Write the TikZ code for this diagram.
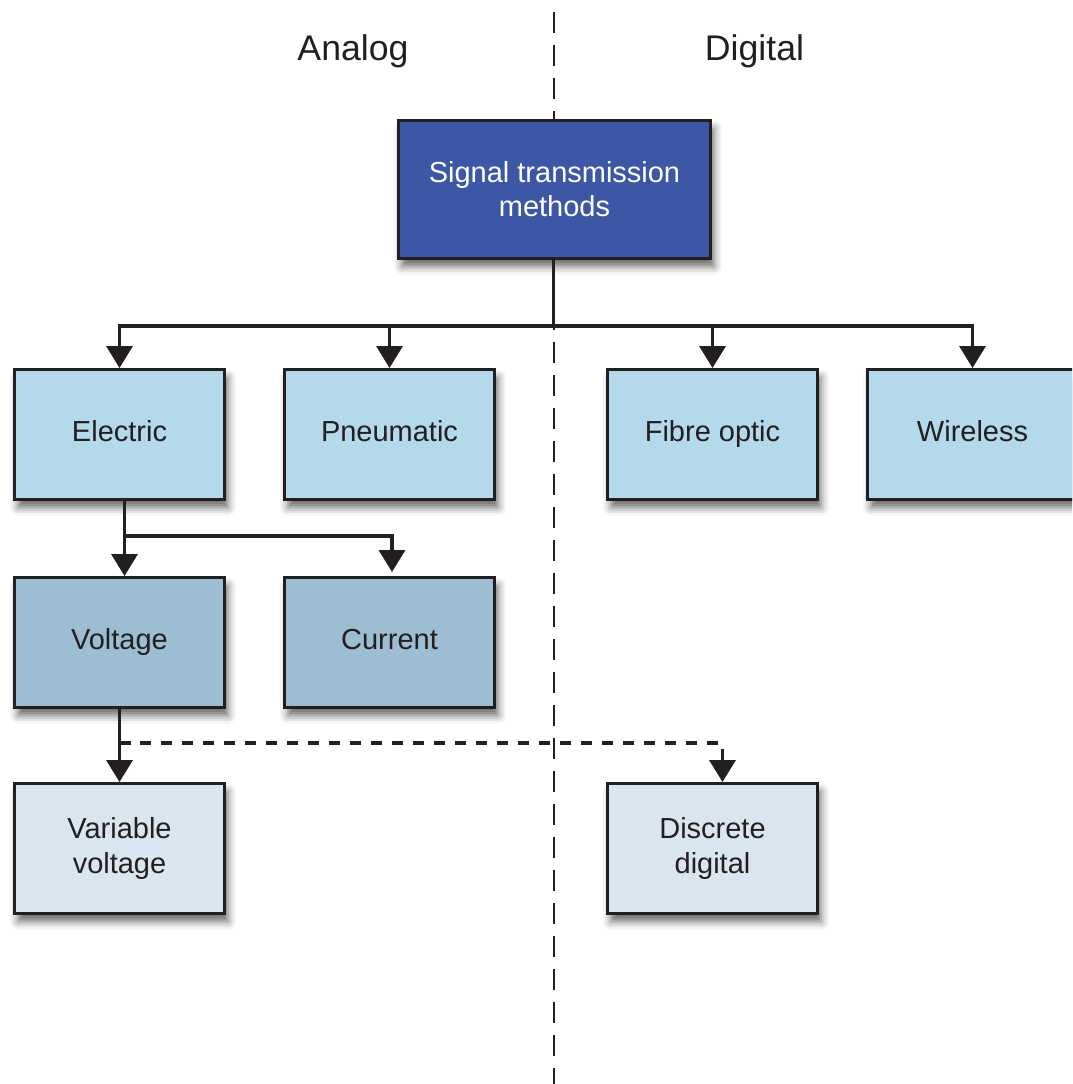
\documentclass[tikz,border=0pt]{standalone}
\usepackage{fontspec}
\setmainfont{Liberation Sans}
\usetikzlibrary{arrows.meta, shadows.blur}

\definecolor{ink}{HTML}{231F20}
\definecolor{topblue}{HTML}{3B57A6}
\definecolor{lvlone}{HTML}{B3D9EB}
\definecolor{lvltwo}{HTML}{9DBED2}
\definecolor{lvlthree}{HTML}{D9E6F0}

\begin{document}
\begin{tikzpicture}[
  x=0.02cm, y=-0.02cm,
  >={Triangle[width=0.52cm, length=0.44cm]},
  font=\fontsize{16.5}{19.5}\selectfont, text=ink,
  box/.style={rectangle, draw=ink, line width=0.06cm, align=center,
    minimum width=4.2cm, minimum height=2.6cm, inner sep=0pt,
    blur shadow={shadow xshift=0.07cm, shadow yshift=-0.16cm,
      shadow blur radius=0.16cm, shadow opacity=60}},
  single/.style={box, text height=1em, text depth=0.25em},
  head/.style={font=\fontsize{20.3}{24}\selectfont},
  link/.style={draw=ink, line width=0.07cm},
  split/.style={draw=ink, line width=0.055cm, dash pattern=on 0.42cm off 0.24cm, dash phase=0.42cm}
]
  \clip (0,0) rectangle (1072,1084);

  % analog / digital divider
  \coordinate (divtop) at (554,0);
  \coordinate (divbot) at (554,1084);
  \draw[split] (divtop) -- (divbot);
  \node[head] (analog) at (353,51) {Analog};
  \node[head] (digital) at (754.5,51) {Digital};

  \node[box, fill=topblue, text=white, minimum width=6.24cm, minimum height=2.76cm] (signal) at (554.5,189.5) {Signal transmission\\ methods};

  \node[single, fill=lvlone] (electric) at (119.5,434.5) {Electric};
  \node[single, fill=lvlone] (pneumatic) at (389.5,434.5) {Pneumatic};
  \node[single, fill=lvlone] (fibre) at (712.5,434.5) {Fibre optic};
  \node[single, fill=lvlone] (wireless) at (972.5,434.5) {Wireless};

  \node[single, fill=lvltwo] (voltage) at (119.5,642.5) {Voltage};
  \node[single, fill=lvltwo] (current) at (389.5,642.5) {Current};

  \node[box, fill=lvlthree] (varvolt) at (119.5,848.5) {Variable\\ voltage};
  \node[box, fill=lvlthree] (discrete) at (712.5,848.5) {Discrete\\ digital};

  % tree from the top box
  \coordinate (bus) at (553.5,326);
  \draw[link] (bus |- signal.south) -- (bus);
  \draw[link, ->] (bus) -| (electric.north);
  \draw[link, ->] (bus) -| (pneumatic.north);
  \draw[link, ->] (bus) -| (fibre.north);
  \draw[link, ->] (bus) -| (wireless.north);

  \draw[link, ->] ([xshift=0.1cm]electric.south) -- ([xshift=0.1cm]voltage.north);
  \draw[link, ->, shorten >=0.08cm] ([xshift=0.1cm]electric.south) -- ++(0,35) -| ([xshift=0.05cm]current.north);

  \draw[link, ->] (voltage.south) -- (varvolt.north);
  \draw[link, dash pattern=on 0.22cm off 0.2cm, ->] (voltage.south) ++(0,34) -| ([xshift=0.2cm]discrete.north);
\end{tikzpicture}
\end{document}
